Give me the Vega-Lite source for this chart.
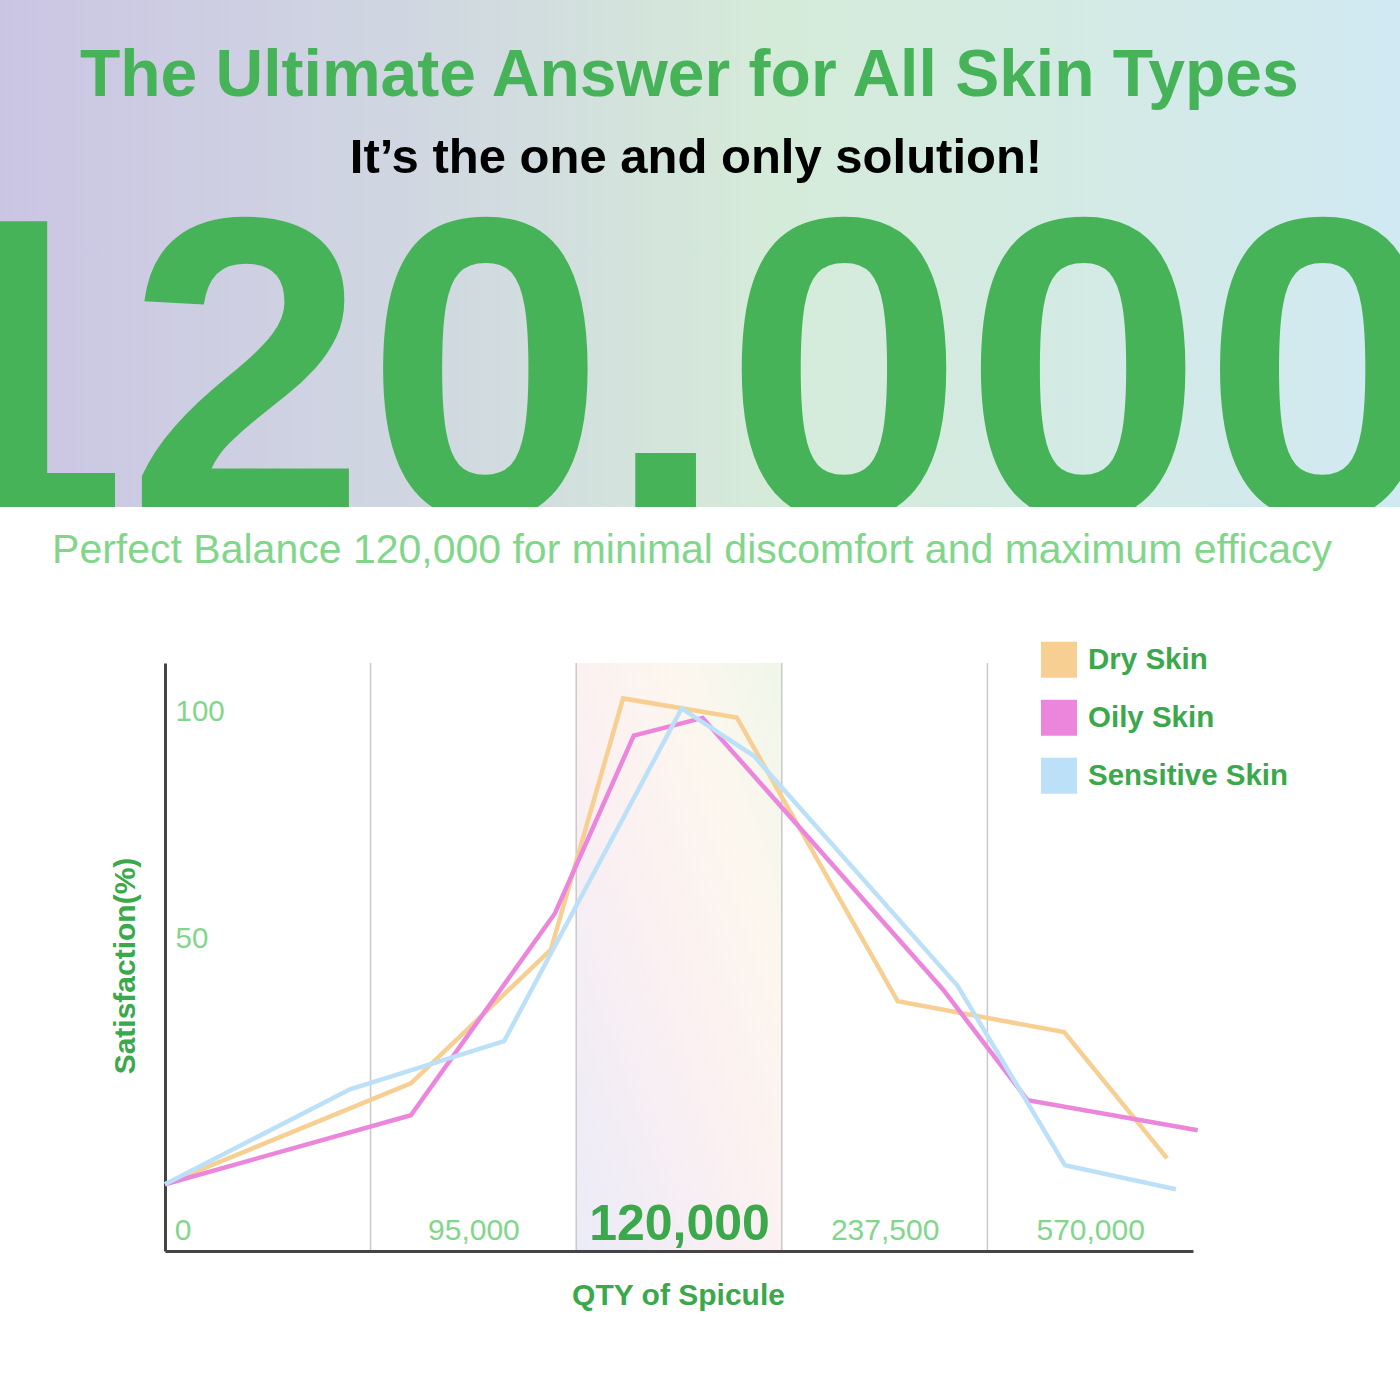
{
  "$schema": "https://vega.github.io/schema/vega-lite/v6.json",
  "background": "white",
  "padding": 0,
  "spacing": 91,
  "config": {"view": {"stroke": null}, "font": "Liberation Sans"},
  "vconcat": [
    {
      "width": 1400,
      "height": 507,
      "title": {
        "text": "Perfect Balance 120,000 for minimal discomfort and maximum efficacy",
        "orient": "bottom",
        "anchor": "middle",
        "frame": "group",
        "offset": 56,
        "baseline": "alphabetic",
        "fontSize": 41,
        "fontWeight": "normal",
        "font": "Liberation Sans",
        "color": "#82d68c",
        "dx": -8
      },
      "layer": [
        {
          "data": {"values": [{"part": "header"}]},
          "mark": {
            "type": "rect",
            "fill": {
              "gradient": "linear",
              "x1": 0, "y1": 0, "x2": 1, "y2": 0,
              "stops": [
                {"offset": 0, "color": "#cbc5e4"},
                {"offset": 0.3, "color": "#d0d7e1"},
                {"offset": 0.55, "color": "#d5ebd9"},
                {"offset": 0.8, "color": "#d3eae6"},
                {"offset": 1, "color": "#d1e9f2"}
              ]
            }
          }
        },
        {
          "data": {"values": [{"t": "120,000"}]},
          "mark": {"type": "text", "clip": true, "font": "Liberation Sans", "fontSize": 430, "fontWeight": "bold", "color": "#46b359", "align": "center", "baseline": "alphabetic", "dx": -35, "dy": 263.5},
          "encoding": {"text": {"field": "t"}}
        },
        {
          "data": {"values": [{"t": "The Ultimate Answer for All Skin Types"}]},
          "mark": {"type": "text", "font": "Liberation Sans", "fontSize": 66, "fontWeight": "bold", "color": "#46b359", "align": "center", "baseline": "alphabetic", "dx": -10.7, "dy": -157.5},
          "encoding": {"text": {"field": "t"}}
        },
        {
          "data": {"values": [{"t": "It’s the one and only solution!"}]},
          "mark": {"type": "text", "font": "Liberation Sans", "fontSize": 49, "fontWeight": "bold", "color": "#000000", "align": "center", "baseline": "alphabetic", "dx": -4, "dy": -80.5},
          "encoding": {"text": {"field": "t"}}
        }
      ]
    },
    {
      "spacing": 0,
      "hconcat": [
        {
          "width": 110,
          "height": 10,
          "data": {"values": [{"part": "spacer"}]},
          "mark": {"type": "rect", "opacity": 0}
        },
        {
          "width": 1028,
          "height": 588,
          "encoding": {
            "x": {
              "field": "pos",
              "type": "quantitative",
              "scale": {"domain": [0, 5], "nice": false, "zero": false},
              "axis": {
                "zindex": 1,
                "values": [0.045, 1.5, 2.5, 3.5, 4.5],
                "labelExpr": "datum.value < 1 ? '0' : datum.value < 2 ? '95,000' : datum.value < 3 ? '120,000' : datum.value < 4 ? '237,500' : '570,000'",
                "labelAlign": {"condition": {"test": "datum.value < 1", "value": "left"}, "value": "center"},
                "labelBaseline": "alphabetic",
                "labelPadding": -12,
                "labelFont": "Liberation Sans",
                "labelFontSize": {"condition": {"test": "datum.value > 2 && datum.value < 3", "value": 50}, "value": 30},
                "labelFontWeight": {"condition": {"test": "datum.value > 2 && datum.value < 3", "value": "bold"}, "value": "normal"},
                "labelColor": {"condition": {"test": "datum.value > 2 && datum.value < 3", "value": "#3aa84b"}, "value": "#82d68c"},
                "labelLimit": 0,
                "labelFlush": false,
                "labelOverlap": false,
                "labelBound": false,
                "ticks": false,
                "tickSize": 0,
                "grid": false,
                "domainColor": "#444444",
                "domainWidth": 3,
                "title": "QTY of Spicule",
                "titleFont": "Liberation Sans",
                "titleFontSize": 30,
                "titleFontWeight": "bold",
                "titleColor": "#3aa84b",
                "titleX": 513,
                "titleY": 53.3,
                "titleAlign": "center",
                "titleBaseline": "alphabetic"
              }
            }
          },
          "layer": [
            {
              "data": {"values": [{"band": "120,000", "pos": 2, "pos_end": 3}]},
              "mark": {
                "type": "rect",
                "fill": {
                  "gradient": "linear",
                  "x1": 0, "y1": 1, "x2": 1, "y2": 0,
                  "stops": [
                    {"offset": 0, "color": "#ebebf7"},
                    {"offset": 0.45, "color": "#fbf0f2"},
                    {"offset": 0.75, "color": "#fcf7ee"},
                    {"offset": 1, "color": "#eff6ea"}
                  ]
                }
              },
              "encoding": {
                "x2": {"field": "pos_end"}
              }
            },
            {
              "data": {"values": [{"pos": 1}, {"pos": 2}, {"pos": 3}, {"pos": 4}]},
              "mark": {"type": "rule", "color": "#c9c9c9", "strokeWidth": 1.5},
              "encoding": {}
            },
            {
              "data": {
                "values": [
                  {"skin": "Dry Skin", "pos": 0, "sat": -4.5},
                  {"skin": "Dry Skin", "pos": 1.196, "sat": 17.7},
                  {"skin": "Dry Skin", "pos": 1.877, "sat": 47.2},
                  {"skin": "Dry Skin", "pos": 2.228, "sat": 102.5},
                  {"skin": "Dry Skin", "pos": 2.781, "sat": 98.3},
                  {"skin": "Dry Skin", "pos": 3.564, "sat": 35.8},
                  {"skin": "Dry Skin", "pos": 4.373, "sat": 29.0},
                  {"skin": "Dry Skin", "pos": 4.874, "sat": 1.2},
                  {"skin": "Oily Skin", "pos": 0, "sat": -4.5},
                  {"skin": "Oily Skin", "pos": 1.196, "sat": 10.7},
                  {"skin": "Oily Skin", "pos": 1.897, "sat": 55.2},
                  {"skin": "Oily Skin", "pos": 2.28, "sat": 94.3},
                  {"skin": "Oily Skin", "pos": 2.615, "sat": 98.2},
                  {"skin": "Oily Skin", "pos": 3.784, "sat": 38.4},
                  {"skin": "Oily Skin", "pos": 4.196, "sat": 14.0},
                  {"skin": "Oily Skin", "pos": 5.023, "sat": 7.4},
                  {"skin": "Sensitive Skin", "pos": 0, "sat": -4.5},
                  {"skin": "Sensitive Skin", "pos": 0.9, "sat": 16.4},
                  {"skin": "Sensitive Skin", "pos": 1.649, "sat": 27.0},
                  {"skin": "Sensitive Skin", "pos": 2.513, "sat": 100.3},
                  {"skin": "Sensitive Skin", "pos": 2.865, "sat": 89.8},
                  {"skin": "Sensitive Skin", "pos": 3.855, "sat": 39.2},
                  {"skin": "Sensitive Skin", "pos": 4.377, "sat": -0.3},
                  {"skin": "Sensitive Skin", "pos": 4.917, "sat": -5.6}
                ]
              },
              "mark": {"type": "line", "strokeWidth": 4.5},
              "encoding": {
                "y": {
                  "field": "sat",
                  "type": "quantitative",
                  "scale": {"domain": [-19.2, 110.3], "nice": false, "zero": false},
                  "axis": {
                    "values": [50, 100],
                    "labelAlign": "left",
                    "labelBaseline": "middle",
                    "labelPadding": -10,
                    "labelOffset": 2,
                    "labelFont": "Liberation Sans",
                    "labelFontSize": 29.5,
                    "labelColor": "#82d68c",
                    "labelFlush": false,
                    "labelOverlap": false,
                    "ticks": false,
                    "tickSize": 0,
                    "grid": false,
                    "domainColor": "#444444",
                    "domainWidth": 3,
                    "title": "Satisfaction(%)",
                    "titleFont": "Liberation Sans",
                    "titleFontSize": 30,
                    "titleFontWeight": "bold",
                    "titleColor": "#3aa84b",
                    "titleAngle": 270,
                    "titleX": -31,
                    "titleY": 302.5,
                    "titleAlign": "center",
                    "titleBaseline": "alphabetic"
                  }
                },
                "color": {
                  "field": "skin",
                  "type": "nominal",
                  "scale": {"domain": ["Dry Skin", "Oily Skin", "Sensitive Skin"], "range": ["#f7cf93", "#eb86dc", "#bde0f9"]},
                  "legend": {
                    "title": null,
                    "orient": "none",
                    "legendX": 1041,
                    "legendY": 641.7,
                    "direction": "vertical",
                    "padding": 0,
                    "symbolType": "square",
                    "symbolSize": 1296,
                    "symbolStrokeWidth": 0,
                    "symbolFillColor": {"expr": "scale('color', datum.value)"},
                    "symbolOpacity": 1,
                    "labelFont": "Liberation Sans",
                    "labelFontSize": 29.5,
                    "labelFontWeight": "bold",
                    "labelColor": "#3aa84b",
                    "labelOffset": 11,
                    "labelLimit": 0,
                    "rowPadding": 22
                  }
                }
              }
            }
          ]
        }
      ]
    }
  ]
}
